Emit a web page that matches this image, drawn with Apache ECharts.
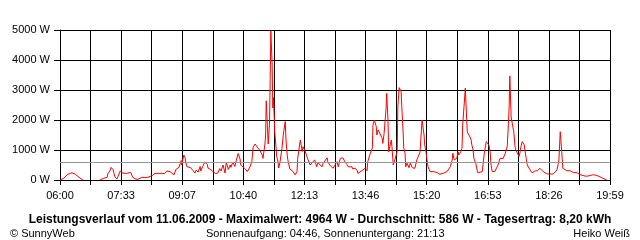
<!DOCTYPE html>
<html>
<head>
<meta charset="utf-8">
<script src="https://cdn.jsdelivr.net/npm/echarts@6/dist/echarts.min.js"></script>
<style>html,body{margin:0;padding:0;background:#fff}#c{width:640px;height:240px}</style>
</head>
<body>
<div id="c"></div>
<script>
// time axis: minutes after 06:00, 18 grid columns up to 19:59
const axisStartMinutes = 0;
const axisEndMinutes = 840;
const columns = 18;
const tickLabels = ['06:00','07:33','09:07','10:40','12:13','13:46','15:20','16:53','18:26','19:59'];
const yTickValues = [0, 1000, 2000, 3000, 4000, 5000];
const averageWatts = 586;

// minutes after 06:00 (null entry = no data)
const minutes = [
0,3,6,9,11,14,18,21,23,26,29,32,35,48,61,63,67,72,73,76,78,81,82,84,86,87,89,90,92,95,96,99,102,105,108,110,111,115,118,119,122,125,130,134,137,
141,142,145,148,150,153,156,157,160,163,165,168,171,174,176,177,179,182,183,185,186,189,191,192,194,197,199,202,203,206,208,209,211,214,215,218,221,225,226,229,231,234,237,240,241,244,246,249,252,254,257,260,261,264,267,270,272,275,276,279,283,
286,289,290,293,295,298,301,302,305,309,310,313,314,315,317,318,320,321,322,324,325,326,327,328,330,331,333,334,336,339,341,344,345,347,348,351,354,356,359,362,363,367,370,371,374,377,379,382,385,386,389,392,394,397,400,402,405,408,409,412,415,417,420,
423,425,428,431,432,435,438,440,443,446,447,451,454,455,458,461,463,466,469,470,473,477,478,480,483,484,486,489,492,493,495,498,499,501,502,506,507,509,512,515,516,518,521,522,524,525,527,528,530,533,535,538,539,542,545,547,550,551,553,554,556,557,559,561,562,565,568,570,573,576,577,580,583,585,588,591,593,596,599,600,602,603,606,608,609,612,614,615,617,619,620,622,623,626,628,629,631,632,635,637,638,641,645,646,648,651,652,655,657,658,660,661,664,667,669,672,675,677,680,683,684,686,687,689,690,692,693,695,696,698,699,701,703,704,706,707,709,710,712,713,715,718,721,722,725,729,732,733,736,738,741,744,748,753,756,759,761,762,764,765,767,768,771,774,776,779,782,784,790,794,797,802,806,813,817,822,825,829,832,835
];
// power in W
const watts = [
0,50,60,90,180,230,240,230,200,150,90,40,0,null,0,40,60,90,200,300,420,350,250,100,150,30,80,20,300,280,230,260,220,240,260,200,90,40,60,20,30,90,80,90,80,
150,170,220,190,220,170,220,170,220,300,310,280,230,170,140,350,390,430,370,650,500,830,750,600,440,480,420,380,320,230,330,380,260,450,300,450,600,520,400,350,330,280,220,180,230,380,300,500,230,600,350,500,420,600,450,720,880,700,500,440,370,
280,300,430,620,1100,1200,1100,1080,1000,830,720,1200,1500,2640,2640,1200,1900,3380,4964,3850,2400,2750,2200,1600,1080,780,600,400,600,1050,1500,1950,1400,830,670,370,310,280,170,280,720,1330,950,1110,1000,780,670,500,500,500,670,440,580,630,440,560,610,740,610,500,440,390,440,
610,440,720,720,740,610,520,440,390,440,370,390,310,220,280,310,330,390,310,610,830,1060,1830,2000,1780,1500,1670,1610,1390,1220,1550,2390,2890,1950,940,1330,1110,500,500,940,2440,3080,2950,2440,1610,1060,890,440,560,410,560,410,410,390,670,720,940,1330,2000,1940,1500,1170,940,600,440,280,220,280,240,250,220,190,190,220,250,280,330,440,670,890,670,670,720,940,830,940,1060,1830,2440,3060,3000,1600,1560,1440,1330,1170,1000,720,560,330,240,220,280,500,890,1280,1300,1170,940,560,280,220,280,330,500,720,780,720,890,1110,1500,2440,3470,2100,2110,2050,1610,1110,1000,920,870,780,950,1110,1280,1330,1170,1000,720,560,440,390,240,280,300,310,360,390,330,280,220,200,200,200,240,330,560,670,1610,1330,720,390,330,310,330,310,280,250,240,180,170,130,130,170,170,130,90,60,20,0
];

const seriesData = minutes.map((m, i) => [m, watts[i]]);
const step = (axisEndMinutes - axisStartMinutes) / columns;
const font = '"Liberation Sans", Arial, sans-serif';

const chart = echarts.init(document.getElementById('c'), null, {renderer: 'canvas'});
chart.setOption({
  animation: false,
  backgroundColor: '#fff',
  grid: {left: 60, right: 30, top: 30, bottom: 60, containLabel: false},
  xAxis: {
    type: 'value', min: axisStartMinutes, max: axisEndMinutes, interval: step,
    axisLine: {show: true, lineStyle: {color: '#000', width: 1}},
    axisTick: {show: true, length: 5, lineStyle: {color: '#000', width: 1}},
    splitLine: {show: true, lineStyle: {color: '#000', width: 1}},
    axisLabel: {
      color: '#000', fontFamily: font, fontSize: 11, margin: 10,
      showMinLabel: true, showMaxLabel: true,
      formatter: function (v) {
        const i = Math.round((v - axisStartMinutes) / step);
        return i % 2 === 0 ? (tickLabels[i / 2] || '') : '';
      }
    }
  },
  yAxis: {
    type: 'value', min: yTickValues[0], max: yTickValues[yTickValues.length - 1], interval: yTickValues[1] - yTickValues[0],
    axisLine: {show: true, lineStyle: {color: '#000', width: 1}},
    axisTick: {show: true, length: 6, lineStyle: {color: '#000', width: 1}},
    splitLine: {show: true, lineStyle: {color: '#000', width: 1}},
    axisLabel: {color: '#000', fontFamily: font, fontSize: 11, margin: 10,
      formatter: function (v) { return String(Math.round(v)) + ' W'; }}
  },
  series: [{
    type: 'line', data: seriesData, showSymbol: false, symbol: 'none', connectNulls: false,
    lineStyle: {color: '#ff0000', width: 1}, itemStyle: {color: '#ff0000'},
    markLine: {
      silent: true, symbol: 'none', label: {show: false},
      lineStyle: {color: '#969696', width: 1, type: 'solid'},
      data: [{yAxis: averageWatts}]
    }
  }],
  title: [
    {text: 'Leistungsverlauf vom 11.06.2009 - Maximalwert: 4964 W - Durchschnitt: 586 W - Tagesertrag: 8,20 kWh',
     left: 'center', top: 209, textStyle: {fontFamily: font, fontSize: 12, fontWeight: 'bold', color: '#000'}},
    {text: '© SunnyWeb', left: 5, top: 223, textStyle: {fontFamily: font, fontSize: 11, fontWeight: 'normal', color: '#000'}},
    {text: 'Sonnenaufgang: 04:46, Sonnenuntergang: 21:13', left: 201, top: 223, textStyle: {fontFamily: font, fontSize: 11, fontWeight: 'normal', color: '#000'}},
    {text: 'Heiko Weiß', right: 5, top: 223, textStyle: {fontFamily: font, fontSize: 11, fontWeight: 'normal', color: '#000'}}
  ]
});
</script>
</body>
</html>
